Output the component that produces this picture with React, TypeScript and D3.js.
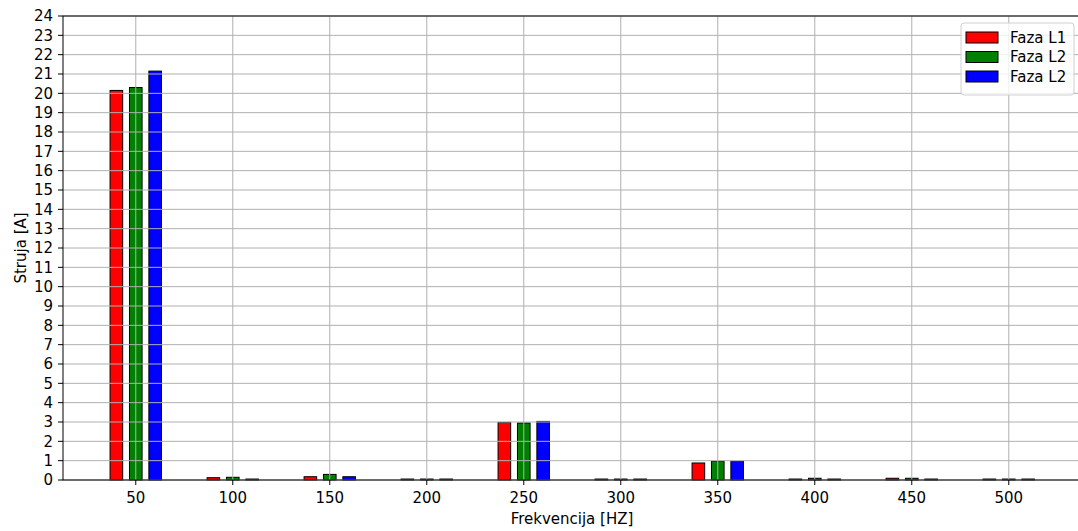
import React from "react";
import * as d3 from "d3";

const freqs = [50, 100, 150, 200, 250, 300, 350, 400, 450, 500];
const faza1 = [20.15, 0.12, 0.17, 0.05, 2.98, 0.05, 0.88, 0.05, 0.09, 0.05];
const faza2 = [20.3, 0.14, 0.29, 0.05, 2.95, 0.05, 0.97, 0.09, 0.09, 0.05];
const faza3 = [21.15, 0.05, 0.17, 0.05, 3.03, 0.05, 0.97, 0.05, 0.05, 0.05];
const seriesNames = ["Faza L1", "Faza L2", "Faza L2"];
const seriesColors = ["#ff0000", "#008000", "#0000ff"];
const offsets = [-10, 0, 10];
const yTicks = d3.range(0, 25);

export default function App() {
  const W = 1078, H = 531;
  const left = 63, top = 16, bottom = 480;
  const barW = 6.5;
  const x = d3.scaleLinear().domain([12.9, 537.1]).range([left + 0.8, left + 0.8 + 524.2 * 1.94]);
  const y = d3.scaleLinear().domain([0, 24]).range([bottom, top]);
  const right = x(537.1);
  const data = [faza1, faza2, faza3];
  const font = "DejaVu Sans, sans-serif";
  const grid = "#b0b0b0";
  const fs = 15;
  return (
    <svg width={W} height={H} style={{ position: "absolute", left: 0, top: 0, background: "#fff" }} fontFamily={font}>
      <rect x={0} y={0} width={W} height={H} fill="#fff" />
      {data.map((s, si) =>
        s.map((v, i) => {
          const cx = freqs[i] + offsets[si];
          return (
            <rect
              key={`${si}-${i}`}
              x={x(cx - barW / 2)}
              y={y(v)}
              width={x(cx + barW / 2) - x(cx - barW / 2)}
              height={y(0) - y(v)}
              fill={seriesColors[si]}
              stroke="#000"
              strokeWidth={1}
            />
          );
        })
      )}
      {yTicks.map((t) => (
        <line key={"gy" + t} x1={left} x2={right} y1={y(t)} y2={y(t)} stroke={grid} strokeWidth={1} />
      ))}
      {freqs.map((f) => (
        <line key={"gx" + f} x1={x(f)} x2={x(f)} y1={top} y2={bottom} stroke={grid} strokeWidth={1} />
      ))}
      <rect x={left} y={top} width={right - left} height={bottom - top} fill="none" stroke="#000" strokeWidth={1} />
      {yTicks.map((t) => (
        <g key={"ty" + t}>
          <line x1={left - 5} x2={left} y1={y(t)} y2={y(t)} stroke="#000" />
          <text x={53} y={y(t)} dy="0.35em" textAnchor="end" fontSize={fs} fill="#000">
            {t}
          </text>
        </g>
      ))}
      {freqs.map((f) => (
        <g key={"tx" + f}>
          <line x1={x(f)} x2={x(f)} y1={bottom} y2={bottom + 5} stroke="#000" />
          <text x={x(f)} y={bottom + 23} textAnchor="middle" fontSize={fs} fill="#000">
            {f}
          </text>
        </g>
      ))}
      <text x={572} y={524} textAnchor="middle" fontSize={fs} fill="#000">
        Frekvencija [HZ]
      </text>
      <text
        transform={`translate(26,${(top + bottom) / 2}) rotate(-90)`}
        textAnchor="middle"
        fontSize={fs}
        fill="#000"
      >
        Struja [A]
      </text>
      <g>
        <rect x={961} y={23} width={113} height={72} rx={3} fill="#fff" fillOpacity={0.8} stroke="#d0d0d0" />
        {seriesNames.map((n, i) => (
          <g key={"lg" + i}>
            <rect x={966} y={32 + i * 19.5} width={32} height={11} fill={seriesColors[i]} stroke="#000" />
            <text x={1010} y={37.5 + i * 19.5} dy="0.35em" fontSize={fs} fill="#000">
              {n}
            </text>
          </g>
        ))}
      </g>
    </svg>
  );
}
